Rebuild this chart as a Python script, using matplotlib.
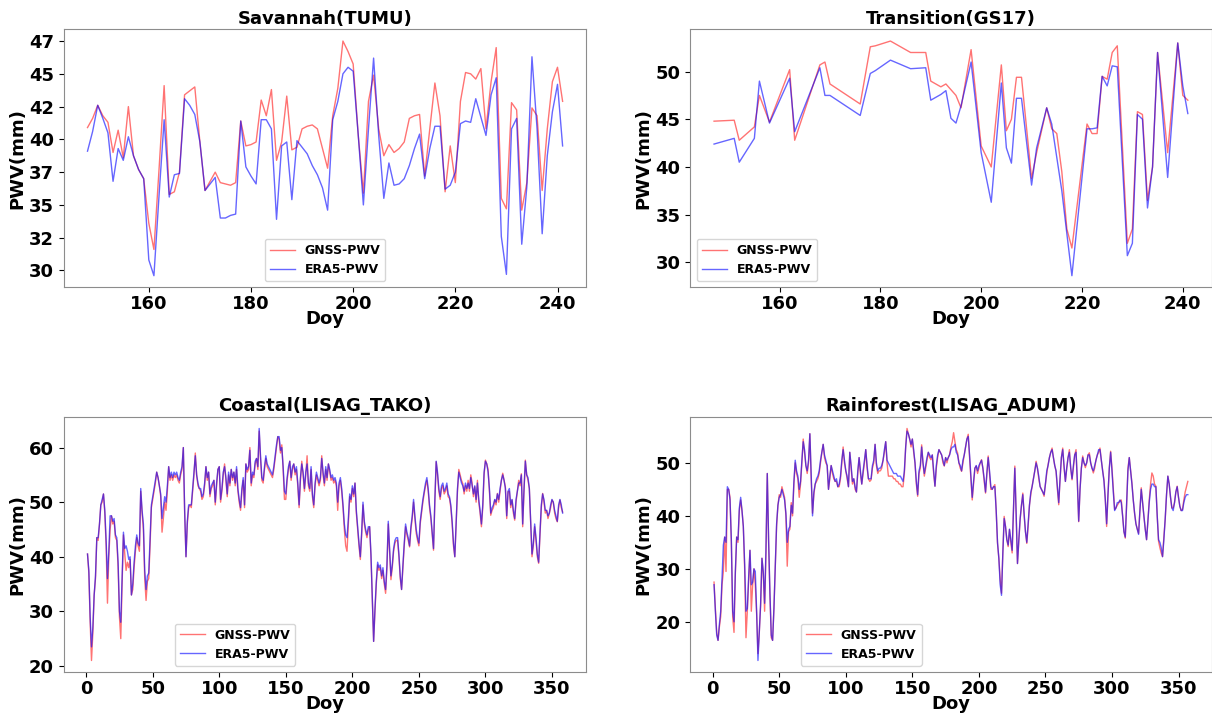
import matplotlib
matplotlib.use('Agg')
from matplotlib import pyplot as plt
from matplotlib.ticker import MultipleLocator, FormatStrFormatter

plt.rcParams['font.family'] = ['DejaVu Sans']
plt.rcParams['font.weight'] = 'bold'
plt.rcParams['axes.titleweight'] = 'bold'
plt.rcParams['axes.labelweight'] = 'bold'

# ---- Savannah (TUMU), doy 148-241 ----
savannah_doy = list(range(148, 242))
savannah_gnss = [40.9, 41.6, 42.6, 41.8, 41.3, 39.0, 40.7, 38.6, 42.5, 38.75,
                 37.7, 37.0, 33.6, 31.6, 37.7, 44.1, 35.8, 36.0, 37.5, 43.4,
                 43.7, 44.0, 39.8, 36.1, 36.8, 37.5, 36.7, 36.6, 36.5, 36.7,
                 41.4, 39.5, 39.6, 39.8, 43.0, 41.8, 43.8, 38.4, 39.8, 43.3,
                 39.2, 39.4, 40.8, 41.0, 41.1, 40.8, 39.3, 37.8, 41.8, 43.9,
                 47.5, 46.7, 45.75, 40.3, 35.9, 42.9, 44.9, 40.8, 38.75, 39.6,
                 39.0, 39.3, 39.8, 41.6, 41.8, 41.9, 37.2, 40.8, 44.3, 41.8,
                 36.0, 39.5, 36.7, 42.9, 45.1, 45.0, 44.6, 45.4, 40.8, 44.4,
                 47.0, 35.5, 34.7, 42.8, 42.25, 34.6, 36.7, 42.4, 41.8, 36.1,
                 40.8, 44.4, 45.5, 42.9]
savannah_era5 = [39.1, 40.6, 42.6, 41.6, 40.5, 36.8, 39.3, 38.4, 40.2, 38.75,
                 37.7, 37.0, 30.8, 29.6, 35.7, 41.5, 35.6, 37.3, 37.4, 43.1,
                 42.6, 41.9, 39.8, 36.1, 36.6, 37.1, 34.0, 34.0, 34.2, 34.3,
                 41.4, 37.9, 37.2, 36.6, 41.5, 41.5, 40.8, 33.9, 39.5, 39.8,
                 35.4, 39.9, 39.4, 38.9, 38.0, 37.3, 36.3, 34.6, 41.5, 42.9,
                 45.0, 45.5, 45.2, 40.3, 35.0, 40.8, 46.2, 40.3, 35.5, 38.2,
                 36.5, 36.6, 37.0, 38.0, 39.3, 40.4, 37.0, 39.3, 41.0, 41.0,
                 36.2, 36.5, 37.5, 41.2, 41.4, 41.3, 43.1, 41.7, 40.3, 43.4,
                 44.7, 32.6, 29.7, 40.8, 41.6, 32.0, 36.4, 46.3, 40.8, 32.8,
                 38.75, 42.1, 44.2, 39.5]

# ---- Transition (GS17), doy with gaps ----
transition_doy = [147, 151, 152, 155, 156, 158, 162, 163, 168, 169,
                  170, 176, 178, 179, 182, 186, 189, 190, 192, 193,
                  194, 195, 196, 198, 200, 202, 204, 205, 206, 207,
                  208, 210, 211, 213, 214, 215, 216, 217, 218, 221,
                  222, 223, 224, 225, 226, 227, 229, 230, 231, 232,
                  233, 234, 235, 237, 239, 240, 241]
transition_gnss = [44.8, 44.9, 42.8, 44.2, 47.5, 44.7, 50.2, 42.8, 50.7, 51.0,
                   48.7, 46.6, 52.6, 52.7, 53.2, 52.0, 52.0, 49.0, 48.4, 48.7,
                   48.1, 47.5, 46.2, 52.3, 42.2, 40.0, 50.7, 43.8, 45.0, 49.4,
                   49.4, 38.8, 41.5, 46.2, 44.0, 43.5, 39.5, 33.5, 31.5, 44.5,
                   43.5, 43.5, 49.5, 49.2, 52.0, 52.7, 32.0, 33.5, 45.8, 45.5,
                   36.5, 40.0, 52.0, 41.5, 53.0, 47.5, 47.0]
transition_era5 = [42.4, 43.0, 40.5, 43.0, 49.0, 44.6, 49.3, 43.7, 50.4, 47.5,
                   47.5, 45.4, 49.8, 50.1, 51.2, 50.3, 50.4, 47.0, 47.6, 48.0,
                   45.1, 44.6, 46.4, 51.0, 41.5, 36.3, 48.8, 42.0, 40.4, 47.2,
                   47.2, 38.1, 42.0, 46.2, 44.5, 41.0, 37.5, 33.0, 28.6, 44.0,
                   44.0, 44.1, 49.5, 48.5, 50.6, 50.5, 30.7, 32.0, 45.5, 45.0,
                   35.7, 40.0, 52.0, 38.9, 53.0, 48.5, 45.6]

# ---- Coastal (LISAG_TAKO), doy 1-358 ----
coastal_doy = list(range(1, 359))
coastal_gnss = [40.5, 37, 28, 21, 26, 33, 36, 43.5, 43, 46,
                49.5, 50, 51.5, 48, 42, 31.5, 40, 45, 47.5, 46,
                46.5, 43.5, 43, 38, 29, 25, 35, 44, 40.5, 37.5,
                39, 38, 39.5, 33, 34, 38, 41, 43.5, 42, 41,
                52, 48, 45, 36, 32, 35.5, 36, 42, 49, 50.5,
                52, 53.5, 55.5, 54.5, 53, 51, 44.5, 47, 50, 48.5,
                52, 56.5, 54, 55, 54, 55, 54.5, 55, 54, 53.5,
                55, 56, 60, 48, 40, 46, 49, 49.5, 49, 52,
                55, 59, 55, 53, 52.5, 52, 50.5, 51, 53, 56.5,
                54, 55.5, 51, 52.5, 53, 54, 49.5, 53, 56, 56.5,
                50, 52, 55, 57, 54, 51, 55, 53, 56, 54,
                55.5, 53, 56, 52, 50, 48.5, 52, 54, 49, 57,
                55.5, 56, 60, 53, 55, 54.5, 57, 58, 56, 63,
                58, 54, 53.5, 56, 58, 56.5, 56, 55.5, 55, 54.5,
                56, 58, 60, 62, 61.5, 59, 60.5, 56, 50.5, 50.5,
                54, 56, 57.5, 54, 56, 57, 55, 56, 53, 49,
                54, 57.5, 55, 52, 55, 58.5, 53, 52, 56, 51,
                49, 53, 55, 54, 53, 54, 58.5, 55, 53, 56,
                54, 57, 55.5, 54, 54.5, 53.5, 54, 53, 48.5, 53,
                54, 52, 49, 45, 42, 41, 46, 51, 50, 52.5,
                51, 53.5, 48, 45, 42, 39.5, 44, 49.5, 46, 44.5,
                43.5, 45, 45.5, 40, 32, 24.5, 30, 35, 38.5, 37.5,
                38, 36, 37.5, 35, 33.3, 38, 46, 41, 35.8, 38,
                41, 42.5, 43, 43, 40, 36, 34, 38, 42, 45.5,
                44, 43, 41.8, 45, 47, 50, 47, 44.3, 43, 42,
                46, 48, 50, 51.6, 53, 54, 52, 49, 47, 44,
                41.2, 50, 57.4, 55, 52, 50.5, 52.5, 53, 51.5, 52,
                53, 51, 50.7, 49, 46, 42, 40, 46, 52, 56,
                55, 54, 53.4, 51.5, 53, 52, 54, 52, 55, 53.5,
                51, 52.8, 50, 54, 50, 48, 45.5, 49, 55, 57.7,
                57, 56, 52, 47.6, 48.5, 49, 50.4, 49.5, 51.6, 50,
                52, 54, 55.3, 54, 52.8, 47, 51.9, 52, 49, 50.4,
                48, 46.7, 50, 52, 54, 53, 55.2, 45.5, 52, 57.7,
                55, 54, 52.5, 46, 40, 42, 45.5, 43, 40, 38.8,
                44, 49, 51.6, 50, 48, 48.5, 47, 47.9, 49, 50.4,
                50, 48, 47, 46.4, 49, 50.4, 49, 48.2]
coastal_era5 = [40.5, 37.5, 29, 23.5, 27, 33, 36.5, 43.5, 43.5, 46,
                49.5, 50.5, 51.5, 48.5, 43, 36, 41, 47.5, 47.5, 46.5,
                47, 44, 43.5, 39, 30, 28, 36, 44.5, 41.5, 42,
                41, 39.5, 40, 33, 35, 39, 42, 44, 42.5, 42,
                52.5, 48.5, 46, 37.5, 34, 36.5, 37, 43, 49.5, 51,
                52.5, 54, 55.5, 54.5, 53, 51.5, 47, 49, 51, 50,
                53, 56.5, 54.5, 55.5, 54.5, 55.5, 55, 55.5, 54.5, 54,
                55.5, 56.5, 60, 48.5, 40, 46.5, 49.5, 49.5, 49.5, 52.5,
                55.5, 58.5, 55, 53.5, 52.5, 52.5, 51, 51.5, 53.5, 56.5,
                54.5, 55.5, 51.5, 53, 53.5, 54, 50, 53.5, 56, 56.5,
                50.5, 52.5, 55.5, 56.5, 54.5, 51.5, 55.5, 53.5, 56, 54.5,
                55.5, 53.5, 56.5, 52.5, 50.5, 49, 52.5, 54.5, 49.5, 57,
                56, 56.5, 59.5, 53.5, 55.5, 55, 57.5, 58, 56.5, 63.5,
                58.5, 54.5, 54, 56.5, 58.5, 57, 56.5, 56, 55.5, 55,
                56.5, 58.5, 60.5, 62, 62, 59.5, 60, 56.5, 52, 51.5,
                54.5, 56.5, 57.5, 54.5, 56.5, 57, 55.5, 56.5, 53.5, 49.5,
                54.5, 57, 55.5, 52.5, 55.5, 57, 53.5, 52.5, 56.5, 51.5,
                49.5, 53.5, 55.5, 54.5, 53.5, 54.5, 58, 55.5, 53.5, 56.5,
                54.5, 57, 56, 54.5, 55, 54, 54.5, 53.5, 50, 53.5,
                54.5, 52.5, 49.5, 46, 44, 43.5, 47, 51.5, 50.5, 53,
                51.5, 53.5, 48.5, 45.5, 42.5, 40, 44.5, 50, 46.5, 45,
                44, 45.5, 45.5, 40.5, 32.5, 24.5, 30.5, 35.5, 39, 38,
                38.5, 36.5, 38, 35.5, 34, 38.5, 46.5, 41.5, 36.5, 38.5,
                41.5, 43, 43.5, 43.5, 40.5, 36.5, 34, 38.5, 42.5, 46,
                44.5, 43.5, 42, 45.5, 47.5, 50.5, 47.5, 45, 43.5, 42.5,
                46.5, 48.5, 50.5, 52, 53.5, 54.5, 52.5, 49.5, 47.5, 44.5,
                41.5, 50.5, 57.5, 55.5, 52.5, 51, 53, 53.5, 52, 52.5,
                53.5, 51.5, 51, 49.5, 46.5, 42.5, 40, 46.5, 52.5, 55.5,
                54.5, 53.5, 53, 52, 53.5, 52.5, 53.5, 52.5, 54.5, 53,
                51.5, 53, 50.5, 53.5, 50.5, 48.5, 46, 49.5, 55.5, 57.5,
                57, 55.5, 52.5, 48, 49, 49.5, 50.5, 50, 51.5, 50.5,
                52.5, 54, 55, 54, 52.5, 47.5, 52, 52.5, 49.5, 50.5,
                48.5, 47, 50.5, 52, 53.5, 53.5, 55, 46, 52.5, 57.5,
                55, 54.5, 52.5, 46.5, 40.5, 42.5, 46, 43.5, 40.5, 39,
                44.5, 49.5, 51.5, 50.5, 48.5, 48.5, 47.5, 48, 49.5, 50.5,
                50, 48.5, 47.5, 46.5, 49.5, 50.5, 49.5, 48]

# ---- Rainforest (LISAG_ADUM), doy 1-357 ----
rainforest_doy = list(range(1, 358))
rainforest_gnss = [27.5, 22.5, 18, 16.5, 19, 21, 27, 29.5, 36, 29.5,
                   45, 45, 43.5, 35, 21, 18, 29, 36, 35, 41,
                   43, 41, 38, 30, 17, 22, 28, 33.5, 22, 27,
                   30, 27, 21.5, 14, 18, 23, 32, 29, 22, 33,
                   48, 35, 25, 17, 16.5, 22.5, 30, 38, 42, 44,
                   43.5, 45.5, 44.5, 43.5, 40, 30.5, 37, 37.5, 42.5, 40,
                   46, 50, 48, 47, 43.5, 46, 50, 54.5, 52, 49.5,
                   48, 50, 55.5, 47, 40.5, 44, 46, 46.5, 47, 48,
                   50, 52, 53.5, 51, 50, 49.5, 45, 47, 49.5, 48,
                   47, 46.5, 46.5, 45.5, 45.5, 47, 50, 53, 50, 48.5,
                   47, 45.5, 52, 49, 46, 47, 45, 44.5, 48, 51,
                   48, 46, 48, 50, 52.5, 49, 47, 46.5, 46.8, 49,
                   50, 53.5, 49.5, 48, 48.5, 48.5, 49, 50.5, 52, 54,
                   50, 47.5, 47.5, 47.5, 47.5, 47, 47, 46.5, 46.5, 46,
                   46, 45.5, 45.5, 48, 53, 56.5, 55.5, 54.5, 53, 54.5,
                   52, 50, 46, 43.7, 48, 49, 53.4, 50, 47.5, 49,
                   50.5, 52, 51, 50.6, 51.5, 48, 45.6, 49, 51, 52.5,
                   52, 51.5, 50, 49.4, 51, 50, 51, 51.6, 53, 54,
                   55.7, 54, 52.5, 51.9, 50, 49, 48.4, 50, 51.5, 53,
                   54.5, 55.4, 51, 47, 43, 46, 49, 49.4, 48, 49,
                   50, 50.6, 49, 46.5, 44.3, 48, 51.3, 48, 45, 45,
                   45.5, 45.9, 41, 34.8, 32, 28, 25.4, 33, 39.9, 38,
                   35.5, 34.2, 37.4, 35, 33, 41, 49.4, 40, 31, 35,
                   39.3, 42, 44.3, 40, 37, 34.8, 38, 42, 44, 45.6,
                   47, 48.5, 50.3, 49, 47, 45.6, 45, 44.5, 43.7, 46,
                   48, 49.7, 51, 52, 52.8, 51, 49.5, 48.4, 45, 42.1,
                   47, 51, 52.8, 49, 46.5, 49, 51, 52.5, 49, 46.8,
                   49, 51.5, 52.5, 46, 38.9, 45, 49, 51.3, 50, 49.1,
                   50, 51.5, 51.9, 50, 49, 48.1, 49, 50.6, 51.5, 52,
                   52.8, 50.5, 48.5, 46.8, 43, 38, 44, 49, 52.2, 49,
                   45, 41.2, 41.5, 42, 42.4, 42.8, 43, 40, 37, 35.8,
                   42, 49, 51, 48.5, 46.2, 43, 40.5, 38.5, 37.5, 36.7,
                   41, 45.3, 42.5, 39.9, 37.5, 35.5, 39, 43, 46, 48.1,
                   47.5, 46, 45.6, 40, 35.2, 34, 33, 32.3, 36, 39.3,
                   44, 47.5, 46, 43.5, 41.5, 41.5, 42.5, 44.5, 45.6, 43.5,
                   41.8, 41, 41.2, 43, 44.5, 45.5, 46.5]
rainforest_era5 = [27, 22, 17.5, 16.5, 19.5, 22, 28, 34.5, 36, 35,
                   45.5, 45, 43, 35.5, 22, 20, 29.5, 36, 35.5, 41.5,
                   43.5, 41, 38, 31, 22, 22.5, 28.5, 33.5, 27, 27.5,
                   30, 29.5, 22, 12.7, 18, 23.5, 32, 29.5, 23.5, 33.5,
                   48, 35.5, 25.5, 17.5, 16.5, 22.5, 30.5, 38.5, 42, 43.5,
                   44, 45, 44, 43, 40.5, 35, 37.5, 38, 42, 40.5,
                   46.5, 50.5, 48.5, 47.5, 45, 46.5, 50.5, 54, 52.5, 49.5,
                   48.5, 50.5, 55.5, 47.5, 40, 44.5, 46, 47, 47.5, 48.5,
                   50.5, 52, 53.5, 51.5, 50.5, 49.5, 45, 47.5, 49.5, 48.5,
                   47.5, 46.5, 47, 45.5, 46, 47.5, 50.5, 52.5, 50.5, 48.5,
                   47.5, 45.5, 52, 49.5, 46.5, 47, 45.5, 44.5, 48.5, 51,
                   48.5, 46, 48.5, 50.5, 52.5, 49.5, 47, 47, 47, 49.5,
                   50.5, 53.5, 50, 48.5, 49, 49, 49.5, 50.5, 52.5, 54,
                   50.5, 50, 49.5, 49, 48.5, 48, 48, 48, 47.5, 47.5,
                   47.5, 47, 46.5, 48.5, 53, 56, 55.5, 54.5, 53.5, 54.5,
                   52.5, 50, 46.5, 44, 48.5, 49.5, 53, 50, 48, 49.5,
                   51, 52, 51.5, 51, 51.5, 48.5, 45.6, 49.5, 51.5, 52.5,
                   52, 51.5, 50.5, 49.5, 51, 50.5, 51, 51.5, 52.5, 53,
                   53, 53.5, 52, 51.5, 50, 49.5, 48.5, 50.5, 51.5, 53,
                   54.5, 55, 51.5, 47.5, 43.5, 46.5, 49, 49.5, 48.5, 49.5,
                   50, 50.5, 49, 47, 44.5, 48, 51, 48.5, 45.5, 45,
                   45.5, 45.5, 41, 35, 32, 27, 25, 33, 39.5, 38,
                   35.5, 34.5, 37.5, 35.5, 33.5, 41, 49, 40.5, 31, 35.5,
                   39.5, 42, 44, 40.5, 37, 35, 38.5, 42, 44.5, 45.5,
                   47, 48.5, 50, 49, 47.5, 45.5, 45, 44.5, 44, 46,
                   48.5, 49.5, 51, 52, 52.5, 51, 49.5, 48.5, 45.5, 42.5,
                   47, 51, 52.5, 49.5, 46.5, 49, 51, 52, 49, 47,
                   49.5, 51.5, 52, 46.5, 39, 45, 49, 51, 50, 49.5,
                   50, 51.5, 51.5, 50, 49, 48.5, 49.5, 50.5, 51.5, 52.5,
                   52.5, 50.5, 48.5, 46.5, 43, 38.5, 44, 49, 52, 48.5,
                   44.5, 41, 41.5, 42.5, 42.5, 43, 42.5, 40, 37, 36,
                   42, 48.5, 51, 48.5, 46, 43, 40.5, 38.5, 37.5, 36.5,
                   41, 45, 42.5, 40, 37.5, 35.5, 39, 42.5, 45, 46,
                   46, 45.5, 45.5, 40, 35.5, 35, 34, 32.3, 35.5, 39.5,
                   44, 47.5, 46, 43.5, 41.5, 41, 42.5, 44.5, 45.5, 43.5,
                   41.8, 41, 41, 42.5, 43.5, 44, 44]

TICK_SIZE = 13
LABEL_SIZE = 13


def draw_panel(ax, doy, gnss, era5, title, legend_kw):
    ax.plot(doy, gnss, color='red', alpha=0.55, lw=1.0, label='GNSS-PWV')
    ax.plot(doy, era5, color='blue', alpha=0.6, lw=1.0, label='ERA5-PWV')
    ax.set_title(title, fontsize=LABEL_SIZE, fontweight='bold', pad=4)
    ax.set_xlabel('Doy', fontsize=LABEL_SIZE, fontweight='bold', labelpad=-2)
    ax.set_ylabel('PWV(mm)', fontsize=LABEL_SIZE, fontweight='bold', labelpad=2)
    ax.tick_params(labelsize=TICK_SIZE)
    ax.tick_params(axis='x', pad=2)
    for lbl in ax.get_xticklabels() + ax.get_yticklabels():
        lbl.set_fontweight('bold')
    for sp in ax.spines.values():
        sp.set_color('0.55')
    ax.legend(prop={'weight': 'bold', 'size': 9}, **legend_kw)


fig = plt.figure(figsize=(12.12, 7.15), dpi=100)
ax1 = fig.add_axes([0.0526, 0.598, 0.4312, 0.361])
ax2 = fig.add_axes([0.5696, 0.598, 0.4300, 0.361])
ax3 = fig.add_axes([0.0526, 0.060, 0.4312, 0.357])
ax4 = fig.add_axes([0.5696, 0.060, 0.4300, 0.357])

draw_panel(ax1, savannah_doy, savannah_gnss, savannah_era5, 'Savannah(TUMU)',
           {'loc': 'lower center'})
ax1.yaxis.set_major_locator(MultipleLocator(2.5))
ax1.yaxis.set_major_formatter(FormatStrFormatter('%d'))
ax1.set_xticks([160, 180, 200, 220, 240])

draw_panel(ax2, transition_doy, transition_gnss, transition_era5, 'Transition(GS17)',
           {'loc': 'lower left'})
ax2.set_xticks([160, 180, 200, 220, 240])

draw_panel(ax3, coastal_doy, coastal_gnss, coastal_era5, 'Coastal(LISAG_TAKO)',
           {'loc': 'lower left', 'bbox_to_anchor': (0.2, 0.0)})
draw_panel(ax4, rainforest_doy, rainforest_gnss, rainforest_era5, 'Rainforest(LISAG_ADUM)',
           {'loc': 'lower left', 'bbox_to_anchor': (0.2, 0.0)})

fig.savefig('out.png', dpi=100)
